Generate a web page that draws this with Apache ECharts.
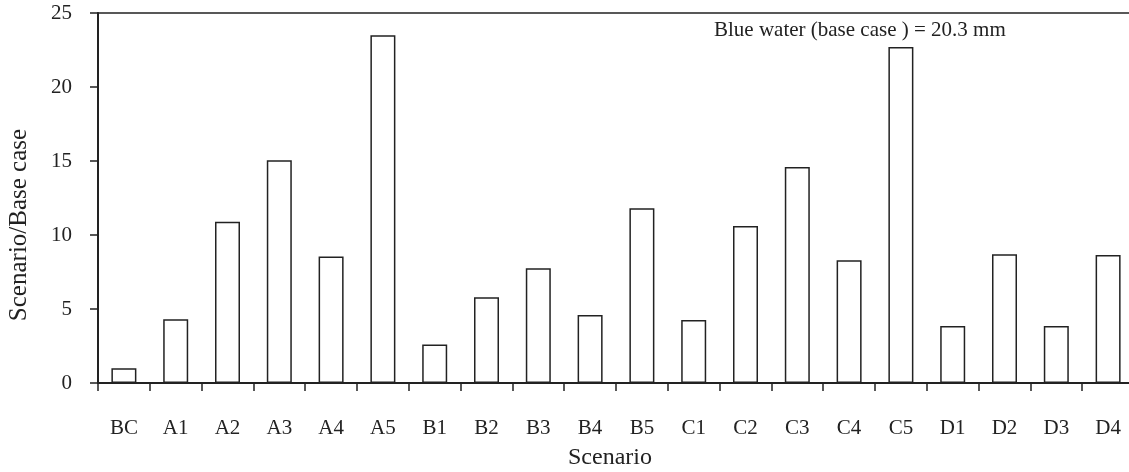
<!DOCTYPE html>
<html>
<head>
<meta charset="utf-8">
<script src="https://cdn.jsdelivr.net/npm/echarts@6/dist/echarts.min.js"></script>
<style>
html,body{margin:0;padding:0;background:#fff;}
#chart{width:1129px;height:472px;}
</style>
</head>
<body>
<div id="chart"></div>
<script>
const categories = ['BC','A1','A2','A3','A4','A5','B1','B2','B3','B4','B5','C1','C2','C3','C4','C5','D1','D2','D3','D4'];
const ratioValues = [1.0, 4.3, 10.9, 15.05, 8.55, 23.5, 2.6, 5.8, 7.75, 4.6, 11.8, 4.25, 10.6, 14.6, 8.3, 22.7, 3.85, 8.7, 3.85, 8.65];
const yTicks = [0, 5, 10, 15, 20, 25];
const annotationText = 'Blue water (base case ) = 20.3 mm';
const xName = 'Scenario';
const yName = 'Scenario/Base case';

const FONT = 'Liberation Serif';
const INK = '#222';

const chart = echarts.init(document.getElementById('chart'), null, {renderer: 'canvas'});
chart.setOption({
  animation: false,
  backgroundColor: '#fff',
  grid: {left: 98, top: 13, width: 1036, height: 370, outerBoundsMode: 'none', containLabel: false},
  xAxis: [{
    type: 'category',
    data: categories,
    position: 'bottom',
    axisLine: {show: true, lineStyle: {color: INK, width: 2}},
    axisTick: {show: true, length: 8, lineStyle: {color: INK, width: 1.5}},
    axisLabel: {color: INK, fontFamily: FONT, fontSize: 21, margin: 35, interval: 0},
    splitLine: {show: false}
  }, {
    type: 'category',
    data: categories,
    position: 'top',
    axisLine: {show: true, lineStyle: {color: INK, width: 1.5}},
    axisTick: {show: false},
    axisLabel: {show: false},
    splitLine: {show: false}
  }],
  yAxis: {
    type: 'value',
    min: yTicks[0],
    max: yTicks[yTicks.length - 1],
    interval: 5,
    axisLine: {show: true, lineStyle: {color: INK, width: 2}},
    axisTick: {show: true, length: 8, lineStyle: {color: INK, width: 1.5}},
    axisLabel: {color: INK, fontFamily: FONT, fontSize: 21, margin: 26, padding: [4, 0, 0, 0]},
    splitLine: {show: false}
  },
  series: [{
    type: 'bar',
    data: ratioValues,
    xAxisIndex: 0,
    barWidth: 25,
    itemStyle: {color: '#fff', borderColor: INK, borderWidth: 1.5}
  }],
  graphic: [{
    type: 'text',
    left: 714,
    top: 20,
    style: {text: annotationText, font: '21px "' + FONT + '"', fill: INK}
  }, {
    type: 'text',
    x: 610,
    y: 458,
    style: {text: xName, font: '24px "' + FONT + '"', fill: INK, align: 'center', verticalAlign: 'middle'}
  }, {
    type: 'text',
    x: 19,
    y: 225,
    rotation: Math.PI / 2,
    style: {text: yName, font: '25px "' + FONT + '"', fill: INK, align: 'center', verticalAlign: 'middle'}
  }]
});
</script>
</body>
</html>
